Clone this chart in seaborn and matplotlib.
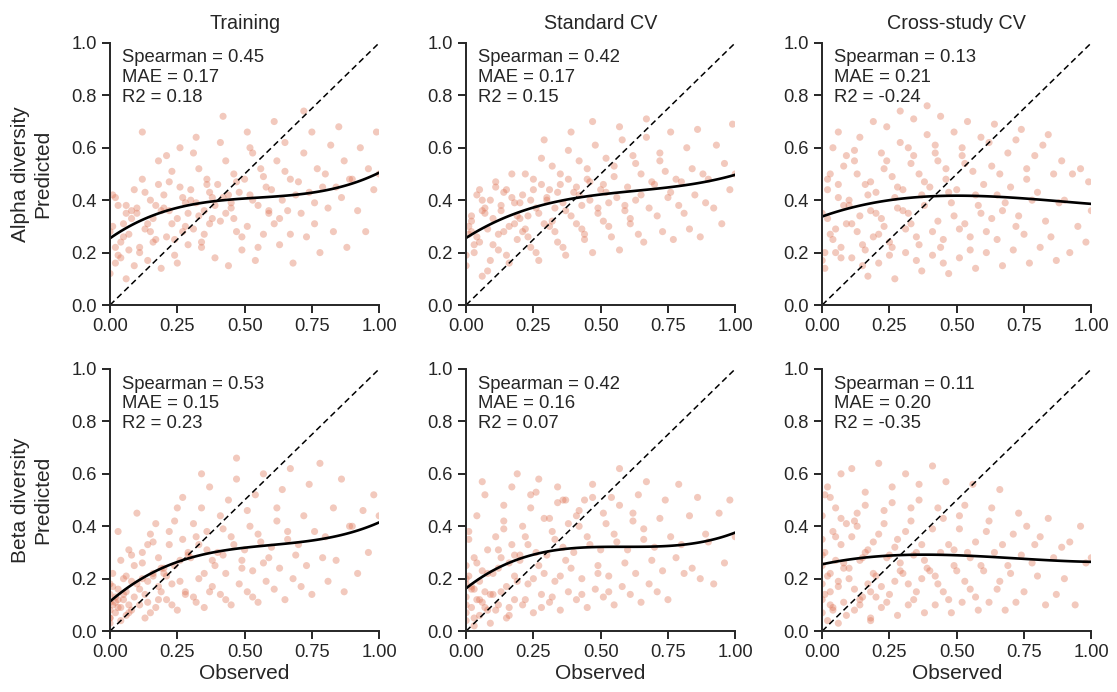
import numpy as np
import pandas as pd
import matplotlib
matplotlib.use("Agg")
import matplotlib.pyplot as plt
import seaborn as sns

# ---------------- data (read/estimated from the reference) ----------------
columns = ["Training", "Standard CV", "Cross-study CV"]
rows = ["Alpha diversity", "Beta diversity"]

alpha_observed = [
    0.00, 0.01, 0.02, 0.03, 0.04, 0.05, 0.06, 0.07, 0.08, 0.09, 0.00, 0.02, 0.04, 0.06, 0.08, 0.01, 0.03, 0.05, 0.07, 0.09, 0.02, 0.06,
    0.10, 0.11, 0.12, 0.13, 0.14, 0.15, 0.16, 0.17, 0.18, 0.19, 0.11, 0.13, 0.15, 0.17, 0.19, 0.12, 0.14, 0.16, 0.18, 0.10,
    0.20, 0.21, 0.22, 0.23, 0.24, 0.25, 0.26, 0.27, 0.28, 0.29, 0.21, 0.23, 0.25, 0.27, 0.29, 0.22, 0.24, 0.26, 0.28, 0.20,
    0.30, 0.31, 0.32, 0.33, 0.34, 0.35, 0.36, 0.37, 0.38, 0.39, 0.31, 0.33, 0.35, 0.37, 0.39, 0.32, 0.34, 0.36, 0.38, 0.30,
    0.40, 0.41, 0.42, 0.43, 0.44, 0.45, 0.46, 0.47, 0.48, 0.49, 0.41, 0.43, 0.45, 0.47, 0.49, 0.42, 0.44, 0.46,
    0.50, 0.51, 0.52, 0.53, 0.54, 0.55, 0.56, 0.57, 0.58, 0.59, 0.51, 0.53, 0.55, 0.57, 0.59, 0.52,
    0.60, 0.61, 0.62, 0.63, 0.64, 0.65, 0.66, 0.67, 0.68, 0.69, 0.61, 0.63, 0.65, 0.67,
    0.70, 0.71, 0.72, 0.73, 0.74, 0.75, 0.76, 0.77, 0.78, 0.79, 0.72, 0.76,
    0.80, 0.81, 0.82, 0.83, 0.84, 0.85, 0.86, 0.87, 0.88, 0.89,
    0.90, 0.92, 0.93, 0.95, 0.96, 0.98, 0.99, 1.00,
]

alpha_pred_training = [
    0.12, 0.30, 0.22, 0.38, 0.18, 0.26, 0.38, 0.21, 0.33, 0.15, 0.28, 0.41, 0.24, 0.10, 0.36, 0.42, 0.19, 0.31, 0.27, 0.44, 0.16, 0.35,
    0.37, 0.22, 0.48, 0.29, 0.17, 0.40, 0.33, 0.25, 0.55, 0.36, 0.20, 0.43, 0.28, 0.38, 0.14, 0.66, 0.31, 0.24, 0.46, 0.35,
    0.42, 0.26, 0.36, 0.51, 0.19, 0.33, 0.45, 0.28, 0.39, 0.23, 0.57, 0.31, 0.16, 0.41, 0.35, 0.47, 0.25, 0.60, 0.30, 0.37,
    0.44, 0.29, 0.39, 0.52, 0.22, 0.36, 0.48, 0.31, 0.41, 0.18, 0.58, 0.34, 0.27, 0.43, 0.38, 0.64, 0.24, 0.46, 0.33, 0.40,
    0.46, 0.32, 0.41, 0.55, 0.15, 0.37, 0.50, 0.28, 0.43, 0.21, 0.62, 0.35, 0.39, 0.47, 0.26, 0.72, 0.42, 0.33,
    0.48, 0.30, 0.42, 0.58, 0.17, 0.38, 0.52, 0.27, 0.45, 0.35, 0.66, 0.40, 0.22, 0.49, 0.36, 0.60,
    0.44, 0.31, 0.55, 0.23, 0.40, 0.62, 0.36, 0.48, 0.16, 0.42, 0.70, 0.33, 0.51, 0.27,
    0.47, 0.35, 0.58, 0.26, 0.43, 0.66, 0.39, 0.52, 0.20, 0.45, 0.74, 0.31,
    0.50, 0.37, 0.61, 0.28, 0.45, 0.68, 0.41, 0.55, 0.22, 0.48,
    0.48, 0.36, 0.60, 0.28, 0.52, 0.44, 0.66, 0.50,
]

alpha_pred_standard = [
    0.15, 0.27, 0.34, 0.20, 0.42, 0.24, 0.11, 0.37, 0.29, 0.40, 0.19, 0.32, 0.26, 0.40, 0.13, 0.30, 0.23, 0.44, 0.35, 0.17, 0.28, 0.36,
    0.33, 0.45, 0.21, 0.38, 0.28, 0.44, 0.16, 0.41, 0.31, 0.25, 0.47, 0.36, 0.19, 0.50, 0.34, 0.27, 0.43, 0.30, 0.39, 0.23,
    0.39, 0.28, 0.50, 0.34, 0.22, 0.44, 0.37, 0.17, 0.56, 0.31, 0.42, 0.26, 0.48, 0.35, 0.63, 0.29, 0.40, 0.20, 0.46, 0.33,
    0.41, 0.30, 0.53, 0.37, 0.24, 0.46, 0.39, 0.19, 0.59, 0.34, 0.44, 0.28, 0.50, 0.36, 0.66, 0.32, 0.43, 0.22, 0.48, 0.40,
    0.43, 0.31, 0.55, 0.38, 0.25, 0.48, 0.40, 0.20, 0.61, 0.35, 0.45, 0.29, 0.52, 0.70, 0.37, 0.42, 0.27, 0.47,
    0.44, 0.32, 0.56, 0.39, 0.26, 0.49, 0.41, 0.21, 0.63, 0.36, 0.46, 0.30, 0.53, 0.68, 0.38, 0.43,
    0.45, 0.33, 0.57, 0.40, 0.27, 0.50, 0.24, 0.64, 0.37, 0.47, 0.31, 0.54, 0.42, 0.71,
    0.46, 0.34, 0.58, 0.28, 0.51, 0.41, 0.66, 0.25, 0.48, 0.38, 0.55, 0.43,
    0.47, 0.35, 0.60, 0.29, 0.52, 0.42, 0.67, 0.26, 0.50, 0.39,
    0.48, 0.37, 0.61, 0.31, 0.54, 0.44, 0.69, 0.50,
]

alpha_pred_crossstudy = [
    0.35, 0.20, 0.48, 0.27, 0.60, 0.20, 0.41, 0.18, 0.53, 0.31, 0.17, 0.44, 0.25, 0.66, 0.38, 0.14, 0.50, 0.29, 0.22, 0.57, 0.33, 0.46,
    0.40, 0.18, 0.55, 0.28, 0.64, 0.23, 0.46, 0.11, 0.36, 0.70, 0.31, 0.50, 0.15, 0.42, 0.26, 0.59, 0.34, 0.21, 0.47, 0.38,
    0.43, 0.16, 0.58, 0.30, 0.68, 0.24, 0.49, 0.10, 0.37, 0.62, 0.27, 0.52, 0.19, 0.41, 0.74, 0.33, 0.55, 0.22, 0.45, 0.35,
    0.44, 0.20, 0.60, 0.31, 0.71, 0.26, 0.50, 0.13, 0.38, 0.65, 0.29, 0.54, 0.17, 0.42, 0.76, 0.35, 0.57, 0.23, 0.47, 0.36,
    0.45, 0.19, 0.61, 0.32, 0.72, 0.25, 0.52, 0.12, 0.39, 0.66, 0.28, 0.55, 0.16, 0.43, 0.34, 0.58, 0.22, 0.48,
    0.44, 0.18, 0.60, 0.31, 0.70, 0.26, 0.51, 0.14, 0.38, 0.64, 0.29, 0.54, 0.21, 0.42, 0.35, 0.57,
    0.46, 0.20, 0.62, 0.33, 0.69, 0.25, 0.50, 0.15, 0.39, 0.58, 0.28, 0.53, 0.42, 0.36,
    0.45, 0.21, 0.63, 0.34, 0.67, 0.27, 0.52, 0.16, 0.40, 0.57, 0.30, 0.48,
    0.43, 0.22, 0.61, 0.32, 0.65, 0.26, 0.50, 0.17, 0.39, 0.55,
    0.40, 0.20, 0.50, 0.30, 0.52, 0.24, 0.47, 0.36,
]

beta_observed = [
    0.00, 0.00, 0.00, 0.00, 0.00, 0.00, 0.01, 0.01, 0.02, 0.02, 0.03, 0.03, 0.04, 0.04, 0.05, 0.05, 0.06, 0.06, 0.07, 0.07, 0.08, 0.08, 0.09, 0.09,
    0.00, 0.01, 0.02, 0.03, 0.04, 0.05, 0.06, 0.07, 0.08, 0.03,
    0.10, 0.11, 0.12, 0.13, 0.14, 0.15, 0.16, 0.17, 0.18, 0.19, 0.11, 0.12, 0.13, 0.14, 0.15, 0.16, 0.17, 0.18, 0.19, 0.10, 0.12, 0.14, 0.16, 0.18,
    0.20, 0.21, 0.22, 0.23, 0.24, 0.25, 0.26, 0.27, 0.28, 0.29, 0.21, 0.22, 0.23, 0.24, 0.25, 0.26, 0.27, 0.28, 0.29, 0.20,
    0.30, 0.31, 0.32, 0.33, 0.34, 0.35, 0.36, 0.37, 0.38, 0.39, 0.31, 0.32, 0.33, 0.34, 0.35, 0.36, 0.37, 0.38,
    0.40, 0.41, 0.42, 0.43, 0.44, 0.45, 0.46, 0.47, 0.48, 0.49, 0.41, 0.43, 0.45, 0.47, 0.49, 0.42,
    0.50, 0.51, 0.52, 0.53, 0.54, 0.55, 0.56, 0.57, 0.58, 0.59, 0.51, 0.53, 0.55, 0.57,
    0.60, 0.61, 0.62, 0.63, 0.64, 0.65, 0.66, 0.67, 0.68, 0.69, 0.62, 0.66,
    0.70, 0.71, 0.72, 0.73, 0.74, 0.75, 0.76, 0.78, 0.79,
    0.80, 0.81, 0.83, 0.84, 0.86, 0.87, 0.89,
    0.90, 0.92, 0.94, 0.96, 0.98, 1.00,
]

beta_pred_training = [
    0.08, 0.14, 0.05, 0.11, 0.18, 0.03, 0.10, 0.22, 0.07, 0.13, 0.16, 0.09, 0.27, 0.04, 0.12, 0.20, 0.06, 0.15, 0.31, 0.10,
    0.08, 0.19, 0.13, 0.25, 0.05, 0.17, 0.11, 0.38, 0.09, 0.14, 0.21, 0.07, 0.29, 0.12,
    0.18, 0.10, 0.26, 0.14, 0.33, 0.07, 0.21, 0.41, 0.12, 0.24, 0.16, 0.30, 0.05, 0.19, 0.37, 0.22, 0.09, 0.28, 0.15, 0.45, 0.20, 0.11, 0.34, 0.17,
    0.24, 0.12, 0.33, 0.18, 0.42, 0.08, 0.27, 0.51, 0.15, 0.30, 0.21, 0.38, 0.10, 0.25, 0.47, 0.19, 0.35, 0.14, 0.29, 0.22,
    0.28, 0.13, 0.36, 0.20, 0.47, 0.09, 0.31, 0.55, 0.17, 0.25, 0.41, 0.11, 0.33, 0.60, 0.22, 0.38, 0.15, 0.27,
    0.30, 0.14, 0.39, 0.22, 0.50, 0.10, 0.33, 0.58, 0.18, 0.27, 0.44, 0.12, 0.36, 0.66, 0.24, 0.29,
    0.31, 0.15, 0.40, 0.23, 0.52, 0.11, 0.34, 0.60, 0.19, 0.28, 0.46, 0.13, 0.37, 0.26,
    0.32, 0.16, 0.42, 0.24, 0.54, 0.12, 0.35, 0.62, 0.20, 0.29, 0.47, 0.38,
    0.33, 0.17, 0.44, 0.25, 0.56, 0.14, 0.38, 0.64, 0.28,
    0.36, 0.19, 0.47, 0.27, 0.58, 0.15, 0.40,
    0.40, 0.22, 0.46, 0.30, 0.52, 0.44,
]

beta_pred_standard = [
    0.10, 0.18, 0.04, 0.25, 0.13, 0.07, 0.21, 0.35, 0.09, 0.16, 0.02, 0.28, 0.12, 0.44, 0.06, 0.19, 0.23, 0.11, 0.52, 0.15,
    0.08, 0.31, 0.14, 0.03, 0.20, 0.38, 0.17, 0.05, 0.26, 0.12, 0.57, 0.09, 0.22, 0.16,
    0.22, 0.08, 0.31, 0.15, 0.42, 0.05, 0.26, 0.55, 0.12, 0.19, 0.36, 0.10, 0.28, 0.48, 0.17, 0.06, 0.33, 0.21, 0.60, 0.14, 0.24, 0.39, 0.09, 0.29,
    0.27, 0.10, 0.36, 0.18, 0.47, 0.07, 0.30, 0.58, 0.14, 0.22, 0.40, 0.12, 0.33, 0.52, 0.20, 0.53, 0.25, 0.09, 0.43, 0.29,
    0.29, 0.11, 0.38, 0.19, 0.49, 0.08, 0.32, 0.50, 0.15, 0.24, 0.43, 0.13, 0.35, 0.55, 0.21, 0.50, 0.27, 0.41,
    0.30, 0.12, 0.40, 0.20, 0.50, 0.09, 0.33, 0.51, 0.16, 0.25, 0.44, 0.14, 0.36, 0.56, 0.22, 0.46,
    0.31, 0.13, 0.41, 0.21, 0.51, 0.10, 0.34, 0.62, 0.17, 0.26, 0.45, 0.15, 0.37, 0.48,
    0.31, 0.14, 0.42, 0.22, 0.52, 0.11, 0.35, 0.57, 0.18, 0.27, 0.45, 0.39,
    0.32, 0.15, 0.43, 0.23, 0.50, 0.12, 0.36, 0.28, 0.56,
    0.33, 0.22, 0.44, 0.24, 0.51, 0.20, 0.37,
    0.34, 0.18, 0.45, 0.26, 0.50, 0.36,
]

beta_pred_crossstudy = [
    0.18, 0.35, 0.07, 0.44, 0.25, 0.12, 0.52, 0.30, 0.04, 0.21, 0.51, 0.15, 0.38, 0.09, 0.27, 0.47, 0.19, 0.03, 0.33, 0.60,
    0.11, 0.24, 0.41, 0.06, 0.29, 0.14, 0.55, 0.22, 0.08, 0.36, 0.17, 0.43, 0.26, 0.10,
    0.20, 0.36, 0.08, 0.45, 0.27, 0.13, 0.53, 0.31, 0.05, 0.22, 0.62, 0.16, 0.40, 0.10, 0.28, 0.48, 0.18, 0.04, 0.34, 0.24, 0.42, 0.12, 0.30, 0.15,
    0.21, 0.37, 0.09, 0.46, 0.28, 0.14, 0.55, 0.32, 0.06, 0.23, 0.64, 0.17, 0.41, 0.11, 0.29, 0.49, 0.19, 0.35, 0.26, 0.13,
    0.22, 0.38, 0.10, 0.47, 0.29, 0.15, 0.56, 0.33, 0.07, 0.24, 0.60, 0.18, 0.42, 0.12, 0.30, 0.50, 0.20, 0.27,
    0.23, 0.39, 0.10, 0.47, 0.30, 0.15, 0.57, 0.33, 0.07, 0.25, 0.63, 0.18, 0.43, 0.12, 0.31, 0.21,
    0.23, 0.39, 0.11, 0.48, 0.30, 0.16, 0.56, 0.34, 0.08, 0.25, 0.44, 0.19, 0.28, 0.13,
    0.23, 0.38, 0.11, 0.47, 0.30, 0.16, 0.54, 0.33, 0.08, 0.25, 0.42, 0.19,
    0.22, 0.37, 0.11, 0.45, 0.29, 0.15, 0.40, 0.26, 0.33,
    0.21, 0.36, 0.10, 0.43, 0.28, 0.14, 0.32,
    0.20, 0.34, 0.10, 0.40, 0.26, 0.28,
]

spearman = [[0.45, 0.42, 0.13], [0.53, 0.42, 0.11]]
mae = [[0.17, 0.17, 0.21], [0.15, 0.16, 0.20]]
r2 = [[0.18, 0.15, -0.24], [0.23, 0.07, -0.35]]

x_ticks = [0.00, 0.25, 0.50, 0.75, 1.00]
y_ticks = [0.0, 0.2, 0.4, 0.6, 0.8, 1.0]

# ---------------- styling ----------------
sns.set_theme(style="ticks")
plt.rcParams["font.family"] = ["Liberation Sans", "DejaVu Sans"]
plt.rcParams.update({
    "font.size": 13.3,
    "axes.labelsize": 15,
    "axes.titlesize": 14.2,
    "xtick.labelsize": 13.2,
    "ytick.labelsize": 13.2,
    "axes.linewidth": 1.4,
    "xtick.major.width": 1.4,
    "ytick.major.width": 1.4,
    "xtick.major.size": 6,
    "ytick.major.size": 6,
    "text.color": "#262626",
    "axes.labelcolor": "#262626",
    "xtick.color": "#262626",
    "ytick.color": "#262626",
    "axes.edgecolor": "#262626",
})

point_color = "#E0785A"

observed = {"Alpha diversity": alpha_observed, "Beta diversity": beta_observed}
predicted = {
    "Alpha diversity": [alpha_pred_training, alpha_pred_standard, alpha_pred_crossstudy],
    "Beta diversity": [beta_pred_training, beta_pred_standard, beta_pred_crossstudy],
}

fig, axes = plt.subplots(2, 3, figsize=(11.17, 6.92), dpi=100)
fig.subplots_adjust(left=0.0985, right=0.977, top=0.938, bottom=0.088,
                    wspace=0.323, hspace=0.244)

for i, row in enumerate(rows):
    for j, col in enumerate(columns):
        ax = axes[i, j]
        df = pd.DataFrame({"Observed": observed[row], "Predicted": predicted[row][j]})
        sns.regplot(data=df, x="Observed", y="Predicted", ax=ax, order=3, ci=None,
                    scatter_kws=dict(s=26, alpha=0.4, color=point_color, edgecolor="none"),
                    line_kws=dict(color="black", lw=1.9))
        ax.axline((0, 0), slope=1, color="black", lw=1.1, ls=(0, (4, 2.5)))
        ax.set_xlim(0, 1)
        ax.set_ylim(0, 1)
        ax.set_xticks(x_ticks)
        ax.set_xticklabels([f"{t:.2f}" for t in x_ticks])
        ax.set_yticks(y_ticks)
        ax.set_yticklabels([f"{t:.1f}" for t in y_ticks])
        sns.despine(ax=ax)
        ax.text(0.045, 0.975,
                f"Spearman = {spearman[i][j]:.2f}\nMAE = {mae[i][j]:.2f}\nR2 = {r2[i][j]:.2f}",
                transform=ax.transAxes, ha="left", va="top", fontsize=13.3)
        if i == 0:
            ax.set_title(col, pad=10)
        if i == 1:
            ax.set_xlabel("Observed", labelpad=2)
        else:
            ax.set_xlabel("")
        if j == 0:
            ax.set_ylabel(f"{row}\nPredicted", labelpad=14)
        else:
            ax.set_ylabel("")

fig.savefig("out.png", dpi=100)
